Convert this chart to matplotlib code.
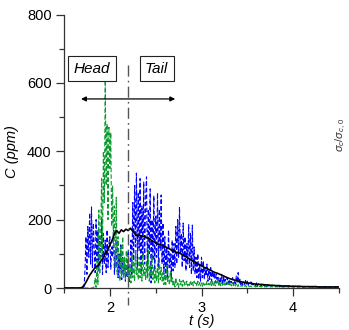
import numpy as np
import matplotlib
matplotlib.use("Agg")
import matplotlib.pyplot as plt

plt.rcParams['font.family'] = ['Liberation Sans', 'DejaVu Sans']
plt.rcParams['mathtext.fontset'] = 'custom'
plt.rcParams['mathtext.rm'] = 'Liberation Sans'
plt.rcParams['mathtext.it'] = 'Liberation Sans:italic'

# ---- data (sampled every 0.01 s from 1.50 s to 4.50 s) ----
blue_c = [
    0, 1, 0, 1, 0, 1, 0, 1, 0, 1,
    0, 1, 0, 1, 0, 1, 0, 1, 0, 1,
    1, 2, 5, 60, 150, 40, 180, 90, 220, 70,
    237, 60, 190, 110, 45, 200, 80, 170, 50, 150,
    90, 200, 40, 160, 70, 140, 45, 170, 60, 130,
    150, 55, 120, 90, 170, 40, 110, 60, 140, 30,
    100, 50, 130, 25, 90, 40, 80, 20, 70, 30,
    110, 15, 60, 140, 40, 250, 80, 300, 120, 336,
    60, 280, 110, 320, 40, 240, 90, 310, 70, 260,
    325, 30, 230, 100, 290, 15, 200, 80, 270, 50,
    210, 90, 278, 60, 230, 110, 272, 70, 190, 40,
    150, 30, 120, 20, 170, 60, 100, 30, 140, 50,
    130, 60, 180, 70, 200, 90, 237, 100, 160, 60,
    190, 80, 150, 50, 130, 70, 185, 60, 160, 40,
    184, 50, 120, 40, 90, 30, 100, 25, 70, 20,
    90, 30, 80, 25, 60, 35, 70, 20, 55, 25,
    60, 20, 50, 30, 45, 15, 40, 25, 35, 12,
    30, 15, 40, 10, 35, 15, 25, 10, 30, 12,
    25, 10, 20, 15, 30, 10, 22, 12, 35, 15,
    45, 12, 25, 10, 20, 8, 18, 10, 22, 8,
    20, 8, 15, 10, 18, 6, 14, 9, 12, 6,
    15, 5, 12, 8, 10, 5, 12, 6, 9, 5,
    10, 4, 8, 6, 9, 4, 7, 5, 8, 4,
    8, 4, 7, 5, 9, 3, 6, 4, 7, 3,
    6, 3, 7, 4, 5, 3, 6, 4, 5, 3,
    6, 3, 5, 4, 6, 2, 5, 3, 5, 3,
    5, 2, 5, 3, 4, 2, 5, 3, 4, 2,
    5, 2, 4, 3, 5, 2, 4, 3, 4, 2,
    4, 2, 5, 3, 4, 2, 4, 3, 4, 2,
    4, 2, 4, 3, 4, 2, 4, 3, 4, 2,
    3,
]

green_c = [
    0, 0, 0, 0, 0, 0, 0, 0, 0, 0,
    0, 0, 0, 0, 0, 0, 0, 0, 0, 0,
    0, 0, 0, 0, 0, 0, 0, 0, 0, 0,
    0, 1, 0, 5, 30, 2, 80, 10, 228, 40,
    150, 320, 100, 400, 250, 608, 300, 480, 200, 470,
    350, 455, 180, 300, 120, 240, 60, 265, 40, 150,
    80, 20, 120, 40, 150, 30, 90, 25, 110, 35,
    70, 20, 60, 15, 100, 30, 80, 20, 110, 40,
    60, 25, 90, 30, 75, 20, 100, 35, 60, 25,
    80, 30, 110, 20, 70, 35, 95, 25, 60, 15,
    50, 20, 70, 15, 90, 25, 60, 20, 45, 10,
    40, 10, 67, 20, 35, 8, 50, 15, 30, 5,
    20, 3, 30, 8, 15, 2, 25, 10, 20, 5,
    23, 8, 18, 10, 20, 6, 15, 8, 22, 10,
    18, 6, 20, 10, 15, 5, 20, 8, 16, 6,
    15, 5, 18, 8, 12, 6, 20, 10, 14, 5,
    18, 7, 22, 8, 15, 6, 20, 10, 25, 8,
    18, 6, 15, 8, 20, 5, 14, 8, 18, 6,
    15, 5, 12, 6, 16, 5, 10, 6, 12, 4,
    10, 4, 8, 5, 9, 4, 7, 5, 8, 3,
    6, 3, 5, 4, 6, 3, 5, 4, 6, 3,
    5, 3, 6, 4, 5, 3, 5, 4, 6, 3,
    5, 3, 5, 4, 6, 3, 5, 3, 5, 3,
    5, 3, 4, 3, 5, 3, 4, 3, 5, 2,
    4, 3, 5, 3, 4, 2, 4, 3, 5, 2,
    4, 2, 4, 3, 4, 2, 4, 3, 4, 2,
    4, 2, 4, 3, 4, 2, 3, 3, 4, 2,
    3, 2, 4, 3, 3, 2, 4, 2, 3, 2,
    3, 2, 4, 2, 3, 2, 3, 2, 3, 2,
    3, 2, 3, 2, 3, 2, 3, 2, 3, 2,
    2,
]

# mean concentration, sampled every 0.025 s from 1.50 s to 4.50 s
black_c = [
    0, 0, 0, 0, 0, 0, 0, 0, 2,
    10, 22, 35, 45, 55, 62, 66, 78, 88, 100,
    112, 125, 140, 158, 168, 160, 170, 165, 172, 168,
    175, 166, 158, 152, 155, 150, 152, 147, 146, 140,
    136, 133, 128, 127, 124, 122, 117, 115, 110, 108,
    104, 104, 100, 96, 92, 88, 84, 80, 76, 72,
    68, 65, 61, 58, 55, 52, 48, 45, 43, 40,
    37, 34, 31, 28, 26, 24, 22, 20, 19, 17,
    16, 15, 14, 13, 12, 11, 11, 10, 10, 9,
    9, 8, 8, 7, 7, 7, 6, 6, 6, 6,
    5, 5, 5, 5, 5, 4, 4, 4, 4, 4,
    4, 4, 3, 3, 3, 3, 3, 3, 3, 3,
    3, 3,
]

t_fine = 1.50 + 0.01 * np.arange(len(blue_c))
t_green = 1.50 + 0.01 * np.arange(len(green_c))
t_mean = 1.50 + 0.025 * np.arange(len(black_c))

x_ticks = [2, 3, 4]
y_ticks = [0, 200, 400, 600, 800]
t_split = 2.2

# ---- figure ----
fig = plt.figure(figsize=(3.49, 3.30), dpi=100)
ax = fig.add_axes([64 / 349, 1 - 288 / 330, (339 - 64) / 349, (288 - 14.5) / 330])

ax.plot(t_fine, blue_c, color='#0000ff', lw=0.8, ls=(0, (4, 2)), zorder=2)
ax.plot(t_green, green_c, color='#0a9a2e', lw=0.8, ls=(0, (4, 2)), zorder=3)
ax.plot(t_mean, black_c, color='black', lw=1.2, zorder=4)

ax.plot([t_split, t_split], [653, -50], color='#555555', lw=1.0,
        ls=(0, (8, 3, 1.2, 3)), clip_on=False, zorder=5)

ax.set_xlim(1.5, 4.5)
ax.set_ylim(0, 800)
ax.set_xticks(x_ticks)
ax.set_xticks(np.arange(1.5, 4.51, 0.5), minor=True)
ax.set_yticks(y_ticks)
ax.set_yticks(np.arange(100, 800, 200), minor=True)
for s in ['top', 'right']:
    ax.spines[s].set_visible(False)
for s in ['left', 'bottom']:
    ax.spines[s].set_color('#333333')
    ax.spines[s].set_linewidth(0.9)
ax.tick_params(which='major', direction='out', length=6, width=0.9,
               color='#333333', labelsize=10.5, pad=3)
ax.tick_params(axis='x', which='major', pad=3.5)
ax.tick_params(which='minor', direction='out', length=3.5, width=0.9,
               color='#333333')

ax.set_ylabel('C (ppm)', fontsize=10.5, fontstyle='italic', labelpad=6)
ax.set_xlabel('t (s)', fontsize=10.5, fontstyle='italic', labelpad=-0.5)

bbox = dict(boxstyle='square,pad=0.35', fc='white', ec='#222222', lw=0.8)
ax.text(1.806, 642, 'Head', fontsize=11, fontstyle='italic', ha='center',
        va='center', bbox=bbox, zorder=6)
ax.text(2.51, 642, 'Tail', fontsize=11, fontstyle='italic', ha='center',
        va='center', bbox=bbox, zorder=6)
ax.annotate('', xy=(1.686, 553), xytext=(2.713, 553),
            arrowprops=dict(arrowstyle='<|-|>', color='black', lw=0.9,
                            mutation_scale=7, shrinkA=0, shrinkB=0), zorder=6)

fig.text(341 / 349, 1 - 135 / 330, r'$\sigma_c/\sigma_{c,0}$', rotation=90,
         fontsize=8, ha='center', va='center', color='#333333')

fig.savefig('out.png', dpi=100)
